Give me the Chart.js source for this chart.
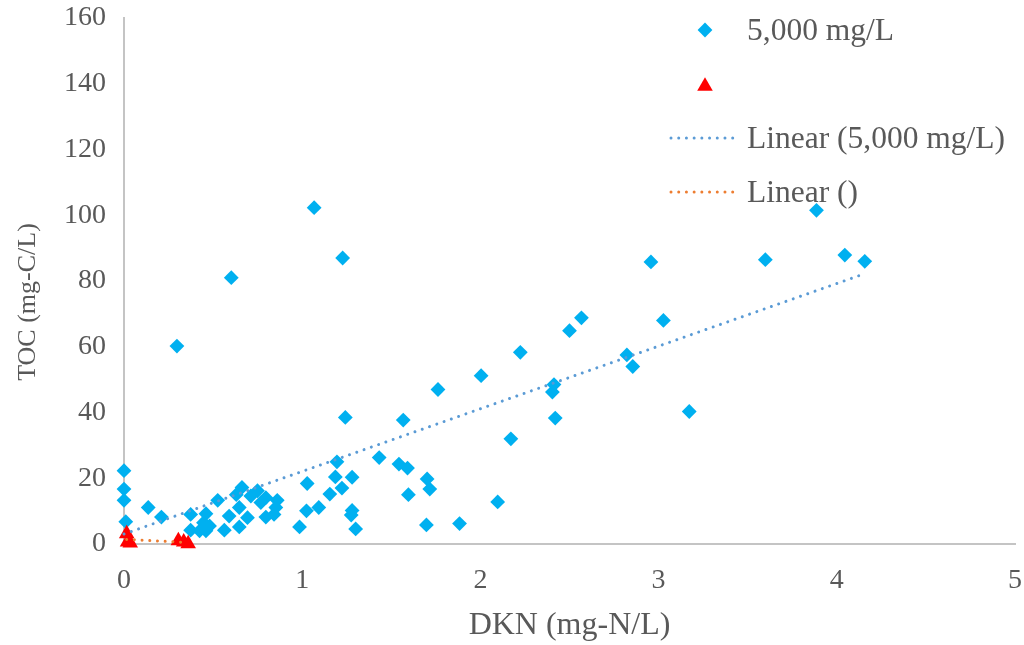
<!DOCTYPE html>
<html>
<head>
<meta charset="utf-8">
<script src="https://cdn.jsdelivr.net/npm/chart.js@4.4.1/dist/chart.umd.min.js"></script>
<style>
  html, body { margin: 0; padding: 0; background: #ffffff; }
  #chartContainer { width: 1024px; height: 645px; position: relative; }
</style>
</head>
<body>
<div id="chartContainer"><canvas id="graficoToc"></canvas></div>
<script>
// DKN x TOC, série 5,000 mg/L
const dkn5000 = [0, 0, 0, 0.01, 0.136, 0.21, 0.297, 0.374, 0.374, 0.424,
  0.446, 0.46, 0.46, 0.48, 0.526, 0.563, 0.59, 0.602, 0.63, 0.647,
  0.647, 0.662, 0.693, 0.712, 0.749, 0.768, 0.796, 0.796, 0.842, 0.852,
  0.86, 0.985, 1.024, 1.028, 1.067, 1.093, 1.155, 1.186, 1.195, 1.223,
  1.227, 1.242, 1.28, 1.28, 1.275, 1.3, 1.432, 1.543, 1.567, 1.591,
  1.596, 1.697, 1.701, 1.716, 1.762, 1.883, 2.004, 2.097, 2.171, 2.224,
  2.404, 2.413, 2.42, 2.5, 2.567, 2.822, 2.855, 2.957, 3.027, 3.172,
  3.599, 3.886, 4.045, 4.157];
const toc5000 = [22.3, 16.7, 13.3, 6.8, 11.1, 8.2, 60.2, 9.0, 4.2, 4.0,
  6.5, 9.2, 4.0, 5.5, 13.3, 4.2, 8.5, 81.0, 15.0, 11.1,
  5.2, 17.2, 8.0, 14.6, 16.2, 12.6, 14.1, 8.2, 9.0, 11.1,
  13.3, 5.2, 10.1, 18.4, 102.3, 11.1, 15.2, 20.4, 25.0, 17.0,
  87.0, 38.5, 20.3, 10.2, 8.8, 4.6, 26.3, 24.3, 37.7, 23.1,
  15.0, 5.8, 19.8, 16.7, 47.0, 6.2, 51.2, 12.8, 32.0, 58.3,
  46.2, 48.5, 38.3, 64.9, 68.8, 57.5, 54.0, 85.8, 68.0, 40.3,
  86.5, 101.5, 87.9, 86.0];

// segunda série (sem nome)
const dknOutra = [0.015, 0.02, 0.035, 0.305, 0.335, 0.36];
const tocOutra = [3.1, 0.6, 0.3, 1.0, 0.6, 0.1];

const labelSerie = '5,000 mg/L';
const labelOutra = '';

const xMax = 5, xPasso = 1;
const yMax = 160, yPasso = 20;

const tituloX = 'DKN (mg-N/L)';
const tituloY = 'TOC (mg-C/L)';

const fonte = '"Liberation Serif", "Times New Roman", serif';
const corTexto = '#595959';
const corEixo = '#c4c4c4';

function pontos(xs, ys) {
  return xs.map((x, i) => ({ x: x, y: ys[i] }));
}

// linha de tendência por mínimos quadrados, do menor ao maior x
function tendencia(xs, ys) {
  const n = xs.length;
  const mx = xs.reduce((a, b) => a + b, 0) / n;
  const my = ys.reduce((a, b) => a + b, 0) / n;
  let sxy = 0, sxx = 0;
  for (let i = 0; i < n; i++) {
    sxy += (xs[i] - mx) * (ys[i] - my);
    sxx += (xs[i] - mx) * (xs[i] - mx);
  }
  const b = sxy / sxx;
  const a = my - b * mx;
  const x0 = Math.min(...xs), x1 = Math.max(...xs);
  return [{ x: x0, y: a + b * x0 }, { x: x1, y: a + b * x1 }];
}

const pontilhado = [0.01, 7.7];

// legenda desenhada à mão dentro da área do gráfico
const legendaPlugin = {
  id: 'legenda',
  afterDraw(chart) {
    const ctx = chart.ctx;
    const xMarca = 705, xTexto = 747, yInicio = 30, passo = 54;
    ctx.save();
    ctx.font = '31.5px ' + fonte;
    ctx.fillStyle = corTexto;
    ctx.textBaseline = 'alphabetic';
    chart.data.datasets.forEach((ds, i) => {
      const y = yInicio + i * passo;
      ctx.save();
      if (ds.type === 'line') {
        ctx.strokeStyle = ds.borderColor;
        ctx.lineWidth = ds.borderWidth;
        ctx.lineCap = 'round';
        ctx.setLineDash(pontilhado);
        ctx.beginPath();
        ctx.moveTo(671, y);
        ctx.lineTo(739, y);
        ctx.stroke();
      } else if (ds.pointStyle === 'rectRot') {
        const r = ds.pointRadius;
        ctx.fillStyle = ds.backgroundColor;
        ctx.beginPath();
        ctx.moveTo(xMarca, y - r);
        ctx.lineTo(xMarca + r, y);
        ctx.lineTo(xMarca, y + r);
        ctx.lineTo(xMarca - r, y);
        ctx.closePath();
        ctx.fill();
      } else {
        const r = ds.pointRadius;
        const h = Math.sqrt(3) / 2 * r;
        ctx.fillStyle = ds.backgroundColor;
        ctx.beginPath();
        ctx.moveTo(xMarca, y - r * 0.75);
        ctx.lineTo(xMarca + h, y + r * 0.75);
        ctx.lineTo(xMarca - h, y + r * 0.75);
        ctx.closePath();
        ctx.fill();
      }
      ctx.restore();
      ctx.fillText(ds.label, xTexto, y + 10);
    });
    ctx.restore();
  }
};

// título do eixo Y, girado, um pouco abaixo do centro da área
const tituloYPlugin = {
  id: 'tituloY',
  afterDraw(chart) {
    const ctx = chart.ctx;
    ctx.save();
    ctx.translate(28, 302);
    ctx.rotate(-Math.PI / 2);
    ctx.font = '26px ' + fonte;
    ctx.fillStyle = corTexto;
    ctx.textAlign = 'center';
    ctx.textBaseline = 'middle';
    ctx.fillText(tituloY, 0, 0);
    ctx.restore();
  }
};

const ctx = document.getElementById('graficoToc').getContext('2d');

const chart = new Chart(ctx, {
  type: 'scatter',
  data: {
    datasets: [
      {
        label: labelSerie,
        data: pontos(dkn5000, toc5000),
        pointStyle: 'rectRot',
        pointRadius: 7.4,
        pointHoverRadius: 7.4,
        backgroundColor: '#00b0f0',
        borderWidth: 0,
        clip: false,
        order: 2
      },
      {
        label: labelOutra,
        data: pontos(dknOutra, tocOutra),
        pointStyle: 'triangle',
        pointRadius: 9,
        pointHoverRadius: 9,
        backgroundColor: '#ff0000',
        borderWidth: 0,
        clip: false,
        order: 1
      },
      {
        type: 'line',
        label: 'Linear (' + labelSerie + ')',
        data: tendencia(dkn5000, toc5000),
        borderColor: '#5b9bd5',
        borderWidth: 3,
        borderDash: pontilhado,
        borderCapStyle: 'round',
        pointRadius: 0,
        fill: false,
        clip: false,
        order: 0
      },
      {
        type: 'line',
        label: 'Linear (' + labelOutra + ')',
        data: tendencia(dknOutra, tocOutra),
        borderColor: '#ed7d31',
        borderWidth: 3,
        borderDash: pontilhado,
        borderCapStyle: 'round',
        pointRadius: 0,
        fill: false,
        clip: false,
        order: 0
      }
    ]
  },
  options: {
    responsive: true,
    maintainAspectRatio: false,
    animation: false,
    layout: { padding: { left: 8, right: 3, top: 18, bottom: 0 } },
    plugins: {
      legend: { display: false },
      tooltip: { enabled: false }
    },
    scales: {
      x: {
        type: 'linear',
        min: 0,
        max: xMax,
        grid: { display: false },
        border: { display: true, color: corEixo, width: 2 },
        ticks: {
          stepSize: xPasso,
          padding: 12,
          color: corTexto,
          font: { family: fonte, size: 28 }
        },
        title: {
          display: true,
          text: tituloX,
          color: corTexto,
          padding: 0,
          font: { family: fonte, size: 32 }
        },
        afterFit(scale) {
          scale.height = 101;
          scale.paddingRight = 0;
          scale.paddingLeft = 0;
        }
      },
      y: {
        type: 'linear',
        min: 0,
        max: yMax,
        grid: { display: false },
        border: { display: true, color: corEixo, width: 2 },
        ticks: {
          stepSize: yPasso,
          padding: 10,
          color: corTexto,
          font: { family: fonte, size: 28 }
        },
        title: { display: false },
        afterFit(scale) {
          scale.width = 116;
          scale.paddingTop = 0;
          scale.paddingBottom = 0;
        }
      }
    }
  },
  plugins: [legendaPlugin, tituloYPlugin]
});
</script>
</body>
</html>
